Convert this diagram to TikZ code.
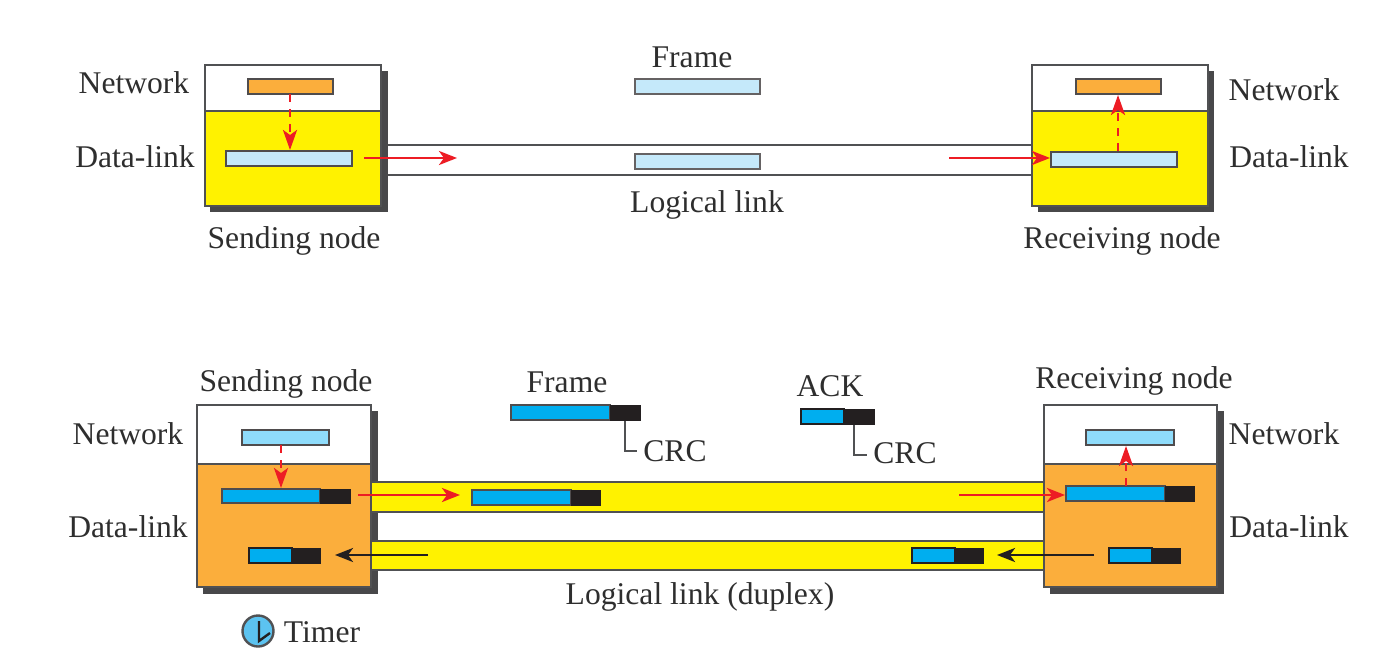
\documentclass[tikz,border=0pt]{standalone}
\usepackage{fontspec}
\setmainfont{Liberation Serif}
\usetikzlibrary{fit,arrows.meta}
\definecolor{tyellow}{HTML}{FFF200}
\definecolor{torange}{HTML}{FBAE3C}
\definecolor{tpale}{HTML}{C5E9FA}
\definecolor{tsky}{HTML}{8FDCFB}
\definecolor{tclock}{HTML}{5CC3F0}
\definecolor{tcyan}{HTML}{00AEEF}
\definecolor{tblack}{HTML}{231F20}
\definecolor{tred}{HTML}{ED1C24}
\definecolor{tline}{HTML}{505153}
\definecolor{tshadow}{HTML}{48484A}
\definecolor{ttext}{HTML}{2E2E2E}
\tikzset{
  x=1pt,y=-1pt,
  rbox/.style={fit={#1},inner sep=0pt,draw=tline,line width=2pt},
  shadowbox/.style={fit={#1},inner sep=0pt,fill=tshadow},
  solidblock/.style={fit={#1},inner sep=0pt,fill=tblack,draw=tblack,line width=1pt},
  lbl/.style={font=\fontsize{31.6}{32}\selectfont,text=ttext,anchor=base,inner sep=0pt},
  redflow/.style={draw=tred,line width=2.8pt,-{Stealth[length=18pt,width=14pt,inset=5pt]}},
  reddash/.style={draw=tred,line width=2.8pt,dash pattern=on 8pt off 7pt,-{Stealth[length=20pt,width=14pt,inset=5pt]}},
  blackflow/.style={draw=tblack,line width=2.8pt,-{Stealth[length=18pt,width=14pt,inset=5pt]}},
  crcline/.style={draw=tline,line width=2pt},
}
\begin{document}
\begin{tikzpicture}
\useasboundingbox (0,0) rectangle (1399,658);
% ---------- top ----------
\node[rbox={(381,145)(1032,175)},fill=white] (toplink) {};
\node[shadowbox={(210,71)(388,212)}] (s1) {};
\node[shadowbox={(1038,71)(1214,212)}] (s2) {};
\node[rbox={(205,65)(381,111)},fill=white] (tsnet) {};
\node[rbox={(205,111)(381,206)},fill=tyellow] (tsdl) {};
\node[rbox={(1032,65)(1208,111)},fill=white] (trnet) {};
\node[rbox={(1032,111)(1208,206)},fill=tyellow] (trdl) {};
\node[rbox={(248,79)(333,94)},fill=torange,draw=tblack!80] (tspkt) {};
\node[rbox={(226,151)(352,166)},fill=tpale,draw=tblack!80] (tsfrm) {};
\node[rbox={(1076,79)(1161,94)},fill=torange,draw=tblack!80] (trpkt) {};
\node[rbox={(1051,152)(1177,167)},fill=tpale,draw=tblack!80] (trfrm) {};
\node[rbox={(635,79)(760,94)},fill=tpale,draw=tblack!70] (tfrm) {};
\node[rbox={(635,154)(760,169)},fill=tpale,draw=tblack!70] (tlfrm) {};
\coordinate (tv1) at (290,94); \coordinate (tv2) at (290,150);
\coordinate (tv3) at (1118,151); \coordinate (tv4) at (1118,95);
\draw[reddash] (tv1) -- (tv2);
\draw[reddash] (tv3) -- (tv4);
\coordinate (ta) at (364,158); \coordinate (tb) at (457,158);
\coordinate (tc) at (949,158); \coordinate (td) at (trfrm.west|-tc);
\draw[redflow] (ta) -- (tb);
\draw[redflow] (tc) -- (td);
\node[lbl] (l1) at (134,94) {Network};
\node[lbl] (l2) at (135,167) {Data-link};
\node[lbl] (l3) at (294,248) {Sending node};
\node[lbl] (l4) at (692,68) {Frame};
\node[lbl] (l5) at (707,212) {Logical link};
\node[lbl] (l6) at (1284,101) {Network};
\node[lbl] (l7) at (1289,167) {Data-link};
\node[lbl] (l8) at (1122,248) {Receiving node};
% ---------- bottom ----------
\node[shadowbox={(203,411)(378,594)}] (s3) {};
\node[shadowbox={(1050,411)(1224,594)}] (s4) {};
\node[rbox={(371,482)(1044,512)},fill=tyellow] (fwd) {};
\node[rbox={(371,541)(1044,570)},fill=tyellow] (bwd) {};
\node[rbox={(197,405)(371,464)},fill=white] (bsnet) {};
\node[rbox={(197,464)(371,587)},fill=torange] (bsdl) {};
\node[rbox={(1044,405)(1217,464)},fill=white] (brnet) {};
\node[rbox={(1044,464)(1217,587)},fill=torange] (brdl) {};
\node[rbox={(242,430)(329,445)},fill=tsky,draw=tblack!80] (bspkt) {};
\node[rbox={(1086,430)(1174,445)},fill=tsky,draw=tblack!80] (brpkt) {};
% frames
\node[rbox={(222,489)(320,503)},fill=tcyan,draw=tblack!80] (f1) {};
\node[solidblock={(320,489)(350,503)}] (f1c) {};
\node[rbox={(472,490)(571,505)},fill=tcyan,draw=tblack!80] (f2) {};
\node[solidblock={(571,490)(600,505)}] (f2c) {};
\node[rbox={(1066,486)(1165,501)},fill=tcyan,draw=tblack!80] (f3) {};
\node[solidblock={(1165,486)(1194,501)}] (f3c) {};
\node[rbox={(511,405)(610,420)},fill=tcyan,draw=tblack!80] (f4) {};
\node[solidblock={(610,405)(640,420)}] (f4c) {};
% acks
\node[rbox={(249,548)(292,563)},fill=tcyan,draw=tblack] (a1) {};
\node[solidblock={(292,548)(320,563)}] (a1c) {};
\node[rbox={(912,548)(955,563)},fill=tcyan,draw=tblack] (a2) {};
\node[solidblock={(955,548)(983,563)}] (a2c) {};
\node[rbox={(1109,548)(1152,563)},fill=tcyan,draw=tblack] (a3) {};
\node[solidblock={(1152,548)(1180,563)}] (a3c) {};
\node[rbox={(801,409)(844,424)},fill=tcyan,draw=tblack] (a4) {};
\node[solidblock={(844,409)(874,424)}] (a4c) {};
% CRC
\node[lbl] (crc1) at (675,461) {CRC};
\node[lbl] (crc2) at (905,463) {CRC};
\coordinate (k1) at (637,451);
\coordinate (k2) at (867,455);
\draw[crcline] (f4c.south) |- (k1);
\draw[crcline] (a4c.south) ++(-5,0) |- (k2);
% arrows
\coordinate (bv1) at (281,445); \coordinate (bv2) at (281,488);
\coordinate (bv3) at (1126,486); \coordinate (bv4) at (1126,446);
\draw[reddash] (bv1) -- (bv2);
\draw[reddash] (bv3) -- (bv4);
\coordinate (ba) at (358,495); \coordinate (bb) at (460,495);
\coordinate (bc) at (959,495); \coordinate (bd) at (f3.west|-bc);
\draw[redflow] (ba) -- (bb);
\draw[redflow] (bc) -- (bd);
\coordinate (be) at (428,555); \coordinate (bf) at (335,555);
\coordinate (bg) at (1094,555); \coordinate (bh) at (997,555);
\draw[blackflow] (be) -- (bf);
\draw[blackflow] (bg) -- (bh);
\node[lbl] (m1) at (286,391) {Sending node};
\node[lbl] (m2) at (567,392) {Frame};
\node[lbl] (m3) at (830,396) {ACK};
\node[lbl] (m4) at (1134,388) {Receiving node};
\node[lbl] (m5) at (128,444) {Network};
\node[lbl] (m6) at (128,537) {Data-link};
\node[lbl] (m7) at (1284,444) {Network};
\node[lbl] (m8) at (1289,537) {Data-link};
\node[lbl] (m9) at (700,604) {Logical link (duplex)};
\node[lbl] (m10) at (322,642) {Timer};
% timer
\node[circle,draw=tline,line width=2.4pt,fill=tclock,minimum size=31pt,inner sep=0pt] (clock) at (258,631) {};
\coordinate (h1) at (259,621); \coordinate (h2) at (259,641); \coordinate (h3) at (270,633);
\draw[tblack,line width=2.4pt] (h1) -- (h2) -- (h3);
\end{tikzpicture}
\end{document}
